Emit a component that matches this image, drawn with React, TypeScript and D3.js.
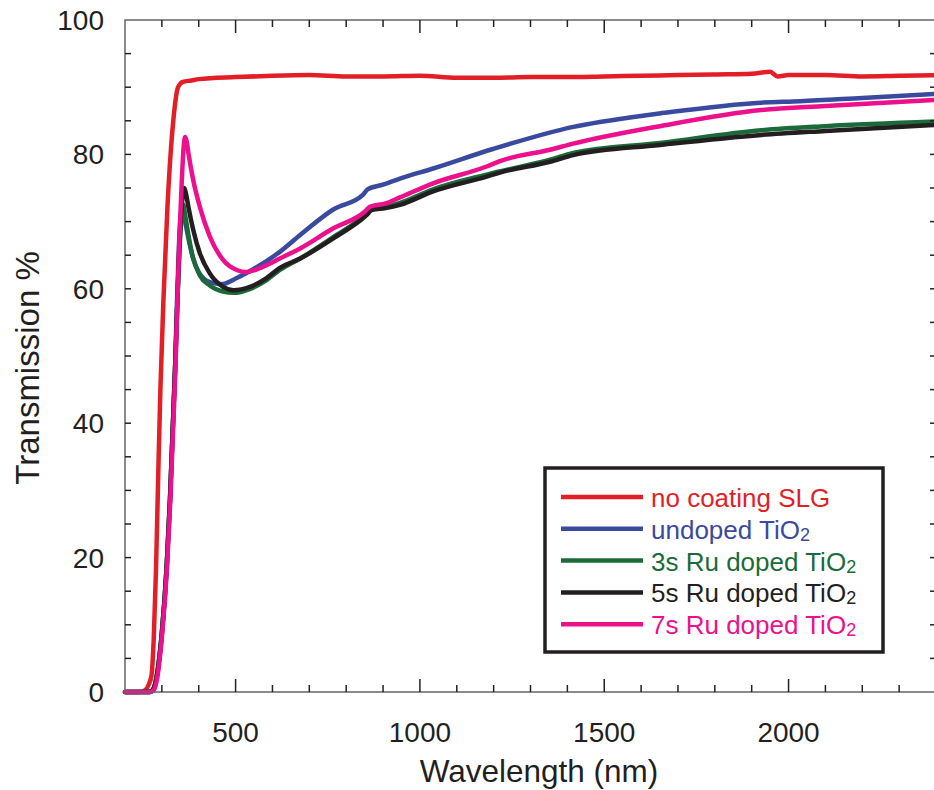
import React from "react";
import * as d3 from "d3";

// ---------- data ----------
const wlSLG = [200, 240, 255, 265, 272, 278, 284, 290, 296, 304, 315, 331, 344, 357, 380, 400, 500, 600, 700, 800, 900, 1000, 1100, 1200, 1300, 1400, 1500, 1600, 1700, 1800, 1900, 1950, 1970, 2000, 2100, 2200, 2300, 2400];
const tSLG = [0, 0, 0.3, 1.2, 2.5, 8, 18, 32, 45, 58, 72, 85, 90, 90.8, 91.0, 91.2, 91.5, 91.7, 91.8, 91.6, 91.6, 91.7, 91.4, 91.4, 91.5, 91.5, 91.6, 91.7, 91.8, 91.9, 92.0, 92.3, 91.6, 91.8, 91.8, 91.6, 91.7, 91.8];

const wlUndoped = [200, 265, 275, 286, 300, 313, 322, 329, 336, 341, 346, 352, 357, 365, 372, 385, 400, 430, 462, 503, 557, 620, 675, 765, 846, 858, 900, 946, 1036, 1198, 1416, 1609, 1651, 1926, 2031, 2200, 2400];
const tUndoped = [0, 0, 0.3, 2.3, 8.8, 18.6, 28.6, 38.5, 48.4, 58, 66, 71.2, 71.5, 69.5, 67.5, 64.5, 62.5, 61, 60.7, 61.6, 63.2, 65.5, 68, 71.8, 74.0, 74.8, 75.5, 76.4, 77.9, 80.8, 84.1, 85.8, 86.1, 87.7, 87.9, 88.4, 89.0];

const wlRu3 = [200, 265, 275, 286, 300, 313, 322, 329, 336, 342, 348, 354, 358, 363, 372, 385, 403, 430, 466, 494, 540, 584, 620, 675, 765, 856, 869, 907, 946, 1036, 1181, 1353, 1416, 1651, 1926, 2100, 2400];
const tRu3 = [0, 0, 0.3, 2.3, 8.8, 18.6, 28.6, 38.5, 48.4, 58, 66, 71, 72.5, 71, 68, 64.5, 62, 60.5, 59.6, 59.4, 60.0, 61.3, 62.8, 64.5, 67.7, 71.2, 71.9, 72.2, 72.8, 74.8, 77.0, 79.2, 80.2, 81.7, 83.6, 84.2, 84.9];

const wlRu5 = [200, 265, 275, 286, 300, 313, 322, 329, 336, 342, 348, 355, 361, 366, 372, 385, 403, 430, 466, 494, 539, 584, 620, 675, 765, 856, 869, 907, 946, 1036, 1181, 1217, 1353, 1416, 1651, 1926, 2100, 2400];
const tRu5 = [0, 0, 0.3, 2.3, 8.8, 18.6, 28.6, 38.5, 48.4, 58, 67, 73, 75, 74, 72.2, 68.8, 65.3, 62.3, 60.3, 59.8, 60.3, 61.6, 63.1, 64.5, 67.5, 71.0, 71.7, 72.0, 72.5, 74.5, 76.7, 77.3, 78.9, 79.9, 81.4, 82.9, 83.5, 84.4];

const wlRu7 = [200, 268, 278, 288, 301, 314, 323, 330, 337, 342, 348, 354, 359, 363, 367, 372, 385, 403, 430, 466, 503, 530, 575, 620, 675, 765, 851, 864, 907, 946, 1036, 1181, 1217, 1353, 1416, 1651, 1926, 2100, 2400];
const tRu7 = [0, 0, 0.3, 2.3, 8.8, 18.6, 28.6, 38.5, 48.4, 58, 68, 76, 81, 82.6, 82, 80.2, 76.2, 72.2, 67.8, 64.3, 62.8, 62.5, 63.3, 64.5, 66.0, 69.0, 71.5, 72.2, 72.7, 73.6, 75.7, 78.2, 79.0, 80.7, 81.6, 84.2, 86.6, 87.2, 88.1];

const seriesNames = ["no coating SLG", "undoped TiO", "3s Ru doped TiO", "5s Ru doped TiO", "7s Ru doped TiO"];
const seriesSub = ["", "2", "2", "2", "2"];
const seriesColors = ["#e21f26", "#3a4a9f", "#1b6b3a", "#231f20", "#ec108c"];
const seriesX = [wlSLG, wlUndoped, wlRu3, wlRu5, wlRu7];
const seriesY = [tSLG, tUndoped, tRu3, tRu5, tRu7];

const xMajorTicks = [500, 1000, 1500, 2000];
const yLabelTicks = [0, 20, 40, 60, 80, 100];

const W = 934;
const H = 790;
const FONT = "'Liberation Sans', Arial, Helvetica, sans-serif";

export default function App() {
  const x = d3.scaleLinear().domain([200, 2400]).range([125, 936]);
  const y = d3.scaleLinear().domain([0, 100]).range([692, 20]);
  const [x0, x1] = x.range();
  const [yb, yt] = y.range();

  const minorX = d3.range(300, 2400, 100);
  const minorY = d3.range(5, 100, 5);

  const line = d3
    .line<[number, number]>()
    .x((d) => x(d[0]))
    .y((d) => y(d[1]))
    .curve(d3.curveMonotoneX);

  const legendX = 545;
  const legendY = 468;
  const rowGap = 31.8;

  return (
    <div style={{ position: "absolute", left: 0, top: 0 }}>
      <svg width={W} height={H} style={{ display: "block", background: "#fff" }}>
        <defs>
          <clipPath id="plot">
            <rect x={x0 - 3} y={yt - 5} width={x1 - x0 + 3} height={yb - yt + 10} />
          </clipPath>
        </defs>

        {/* series */}
        <g clipPath="url(#plot)" fill="none" strokeLinejoin="round" strokeLinecap="round">
          {seriesX.map((xs, i) => (
            <path
              key={i}
              d={line(xs.map((w, j) => [w, seriesY[i][j]] as [number, number])) || ""}
              stroke={seriesColors[i]}
              strokeWidth={4.5}
            />
          ))}
        </g>

        {/* frame */}
        <rect x={x0} y={yt} width={x1 - x0} height={yb - yt} fill="none" stroke="#666" strokeWidth={1.5} />

        {/* ticks (inward) */}
        <g stroke="#222" strokeWidth={1.5}>
          {minorX.map((t) => {
            const len = xMajorTicks.includes(t) ? 13 : 7;
            return (
              <g key={t}>
                <line x1={x(t)} x2={x(t)} y1={yb} y2={yb - len} />
                <line x1={x(t)} x2={x(t)} y1={yt} y2={yt + len} />
              </g>
            );
          })}
          {minorY.map((t) => (
            <g key={t}>
              <line x1={x0} x2={x0 + 6} y1={y(t)} y2={y(t)} />
              <line x1={x1} x2={x1 - 6} y1={y(t)} y2={y(t)} />
            </g>
          ))}
        </g>

        {/* tick labels */}
        <g fontFamily={FONT} fontSize={28} fill="#231f20">
          {xMajorTicks.map((t) => (
            <text key={t} x={x(t)} y={742} textAnchor="middle">
              {t}
            </text>
          ))}
          {yLabelTicks.map((t) => (
            <text key={t} x={104} y={y(t) + 10} textAnchor="end">
              {t}
            </text>
          ))}
        </g>

        {/* axis titles */}
        <text x={539} y={782} textAnchor="middle" fontFamily={FONT} fontSize={31.5} fill="#231f20">
          Wavelength (nm)
        </text>
        <text
          transform={`translate(39, ${(yb + yt) / 2 + 12}) rotate(-90)`}
          textAnchor="middle"
          fontFamily={FONT}
          fontSize={33}
          fill="#231f20"
        >
          Transmission %
        </text>

        {/* legend */}
        <rect x={legendX} y={legendY} width={338} height={184} fill="#fff" stroke="#231f20" strokeWidth={3.5} />
        {seriesNames.map((n, i) => {
          const ly = legendY + 29 + i * rowGap;
          return (
            <g key={n}>
              <line x1={561} x2={643} y1={ly} y2={ly} stroke={seriesColors[i]} strokeWidth={4.5} />
              <text x={651} y={ly + 10} fontFamily={FONT} fontSize={26} fill={seriesColors[i]}>
                {n}
                {seriesSub[i] && (
                  <tspan fontSize={18} dy={2}>
                    {seriesSub[i]}
                  </tspan>
                )}
              </text>
            </g>
          );
        })}
      </svg>
    </div>
  );
}
